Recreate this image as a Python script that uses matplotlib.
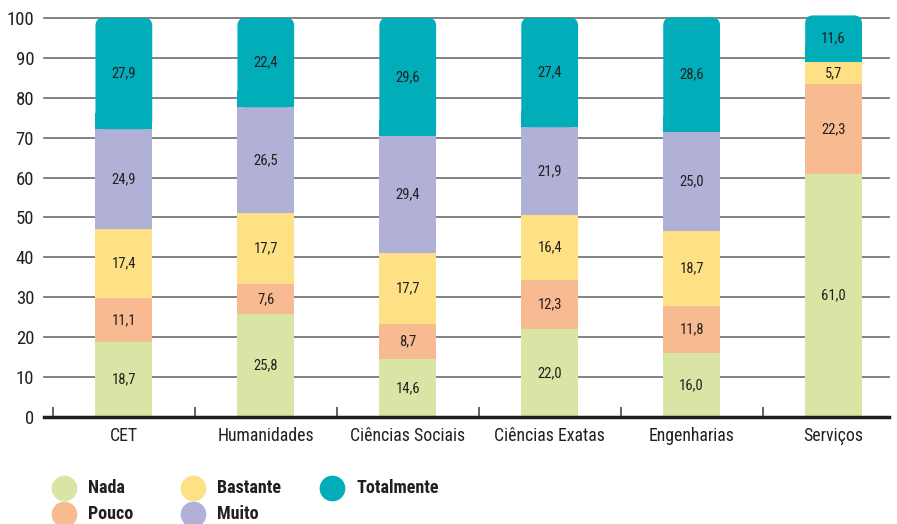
import numpy as np
import matplotlib
matplotlib.use("Agg")
import matplotlib.pyplot as plt
from matplotlib import font_manager
from matplotlib.patches import FancyBboxPatch, Rectangle
from matplotlib.lines import Line2D

# fonte condensada se houver
disponiveis = {f.name for f in font_manager.fontManager.ttflist}
fonte = "DejaVu Sans"
for nome in ["Roboto Condensed", "Liberation Sans Narrow", "Open Sans Condensed", "Roboto", "Liberation Sans"]:
    if nome in disponiveis:
        fonte = nome
        break
plt.rcParams['font.family'] = [fonte, 'DejaVu Sans']

categorias = ["CET", "Humanidades", "Ciências Sociais", "Ciências Exatas", "Engenharias", "Serviços"]
niveis = ["Nada", "Pouco", "Bastante", "Muito", "Totalmente"]
nada = [18.7, 25.8, 14.6, 22.0, 16.0, 61.0]
pouco = [11.1, 7.6, 8.7, 12.3, 11.8, 22.3]
bastante = [17.4, 17.7, 17.7, 16.4, 18.7, 5.7]
muito = [24.9, 26.5, 29.4, 21.9, 25.0, 0.0]
totalmente = [27.9, 22.4, 29.6, 27.4, 28.6, 11.6]
cores = ["#d9e5a4", "#f8bb91", "#fde184", "#b1b0d6", "#00adb9"]

series = [nada, pouco, bastante, muito, totalmente]

fig = plt.figure(figsize=(8.97, 5.24), dpi=100)
ax = fig.add_axes([0.049, 0.204, 0.942, 0.762])

x = np.arange(len(categorias))
largura = 0.40
raio_x = 0.056
raio_y = 2.0

# grelha
for v in range(10, 101, 10):
    ax.axhline(v, color="#77787b", lw=1.3, zorder=1, clip_on=False)

base = np.zeros(len(categorias))
for k, (vals, cor) in enumerate(zip(series, cores)):
    vals = np.array(vals)
    for i in range(len(categorias)):
        if vals[i] <= 0:
            continue
        topo = k == len(series) - 1
        if topo:
            # segmento de cima com cantos arredondados
            p = FancyBboxPatch((x[i] - largura / 2, base[i]), largura, vals[i],
                               boxstyle=f"round,pad=0,rounding_size={raio_x}",
                               mutation_aspect=raio_y / raio_x,
                               fc=cor, ec="none", zorder=2, clip_on=False)
            ax.add_patch(p)
            ax.add_patch(Rectangle((x[i] - largura / 2, base[i]), largura, raio_y * 2,
                                   fc=cor, ec="none", zorder=2))
        else:
            ax.add_patch(Rectangle((x[i] - largura / 2, base[i]), largura, vals[i],
                                   fc=cor, ec="none", zorder=2))
        ax.text(x[i], base[i] + vals[i] / 2, f"{vals[i]:.1f}".replace(".", ","),
                ha="center", va="center", fontsize=10.5, color="#231f20", zorder=3)
    base += vals

ax.set_xlim(-0.563, 5.39)
ax.set_ylim(0, 100)
ax.set_yticks(range(0, 101, 10))
ax.tick_params(axis="y", length=0, pad=7, labelsize=13.5, labelcolor="#231f20")
ax.set_xticks(x)
ax.set_xticklabels(categorias)
ax.tick_params(axis="x", which="major", length=0, pad=7, labelsize=12.8, labelcolor="#231f20")
ax.set_xticks(np.arange(-0.5, 5.0, 1.0), minor=True)
ax.tick_params(axis="x", which="minor", direction="in", length=7, width=1.2, color="#444444")

for s in ["top", "right", "left"]:
    ax.spines[s].set_visible(False)
ax.spines["bottom"].set_linewidth(2.5)
ax.spines["bottom"].set_color("#231f20")
ax.spines["bottom"].set_zorder(4)

# legenda manual (3 colunas, preenchidas por coluna)
col_x = [64, 193, 332]
lin_y = [488, 514]
W, H = 897, 524
for n, (nome, cor) in enumerate(zip(niveis, cores)):
    cx = col_x[n // 2]
    cy = lin_y[n % 2]
    fig.add_artist(Line2D([cx / W], [1 - cy / H], marker="o", ls="none", ms=18.5,
                          mfc=cor, mec="none", transform=fig.transFigure))
    fig.text((cx + 24) / W, 1 - cy / H, nome, ha="left", va="center",
             fontsize=13, fontweight="bold", color="#231f20")

fig.savefig("out.png", dpi=100)
